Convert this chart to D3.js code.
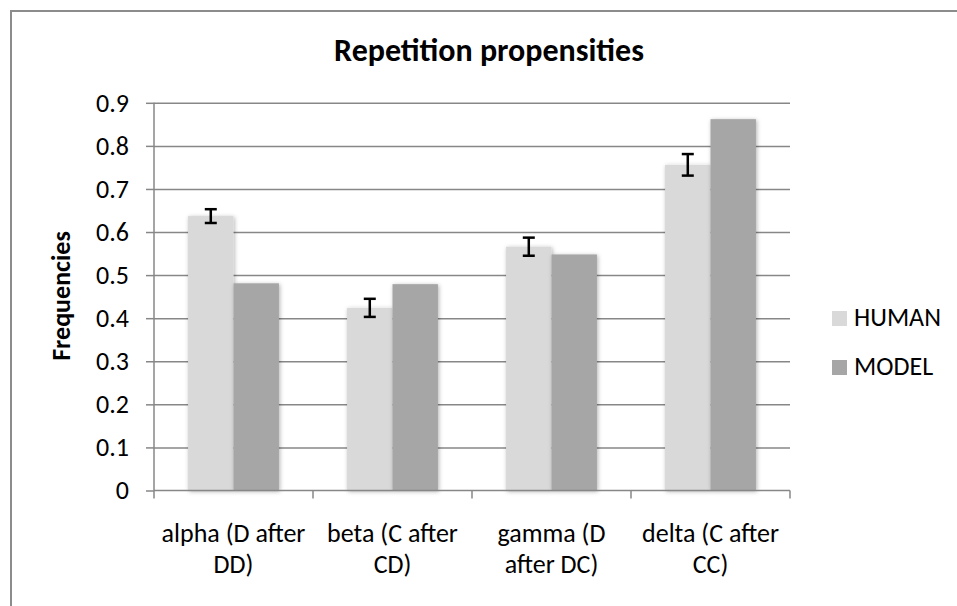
<!DOCTYPE html>
<html>
<head>
<meta charset="utf-8">
<script src="https://cdn.jsdelivr.net/npm/d3@7"></script>
<style>
  body { margin: 0; background: #fff; }
  text { font-family: Carlito, Calibri, Lato, sans-serif; fill: #000; }
</style>
</head>
<body>
<div id="chart"></div>
<script>
// data
var categories = ['alpha (D after DD)', 'beta (C after CD)', 'gamma (D after DC)', 'delta (C after CC)'];
var labelLines = [['alpha (D after', 'DD)'], ['beta (C after', 'CD)'], ['gamma (D', 'after DC)'], ['delta (C after', 'CC)']];
var seriesNames = ['HUMAN', 'MODEL'];
var humanValues = [0.637, 0.424, 0.566, 0.756];
var humanErrors = [0.016, 0.021, 0.021, 0.025];
var modelValues = [0.481, 0.479, 0.548, 0.862];
var yTicks = [0, 0.1, 0.2, 0.3, 0.4, 0.5, 0.6, 0.7, 0.8, 0.9];

var svgWidth = 957, svgHeight = 606;
var margin = { top: 102.8, left: 154, right: 167, bottom: 115.5 };
var chartWidth = svgWidth - margin.left - margin.right;
var chartHeight = svgHeight - margin.top - margin.bottom;
var colors = { HUMAN: '#d9d9d9', MODEL: '#a6a6a6' };
var gridColor = '#878787';
var labelSize = '26px';

var svg = d3.select('#chart').append('svg')
    .attr('width', svgWidth)
    .attr('height', svgHeight);

// soft shadow like excel bars
var defs = svg.append('defs');
defs.append('filter')
    .attr('id', 'shadow')
    .attr('x', '-30%').attr('y', '-10%')
    .attr('width', '160%').attr('height', '120%')
    .append('feDropShadow')
    .attr('dx', 1).attr('dy', 1)
    .attr('stdDeviation', 2.2)
    .attr('flood-color', '#000')
    .attr('flood-opacity', 0.3);

// outer frame
svg.append('path')
    .attr('d', `M11,${svgHeight} L11,11 L${svgWidth},11`)
    .attr('fill', 'none')
    .attr('stroke', '#8c8c8c')
    .attr('stroke-width', 2);

var chartGroup = svg.append('g')
    .attr('transform', `translate(${margin.left}, ${margin.top})`);

// scales
var x0 = d3.scaleBand().domain(categories).range([0, chartWidth]).padding(0);
var x1 = d3.scaleBand().domain(seriesNames).range([0, x0.bandwidth()])
    .paddingInner(0).paddingOuter(0.75);
var y = d3.scaleLinear().domain([0, 0.9]).range([chartHeight, 0]);

// gridlines
var grid = chartGroup.append('g')
    .call(d3.axisLeft(y).tickValues(yTicks.slice(1)).tickSize(-chartWidth).tickFormat(''));
grid.select('.domain').remove();
grid.selectAll('line').attr('stroke', gridColor).attr('stroke-width', 1.5);

// bars
var rows = categories.map(function (c, i) {
    return { cat: c, i: i, vals: [
        { key: 'HUMAN', value: humanValues[i] },
        { key: 'MODEL', value: modelValues[i] }
    ] };
});

var catGroups = chartGroup.selectAll('.cat')
    .data(rows)
    .enter()
    .append('g')
    .attr('class', 'cat')
    .attr('transform', d => `translate(${x0(d.cat)}, 0)`);

catGroups.selectAll('rect')
    .data(d => d.vals)
    .enter()
    .append('rect')
    .attr('x', d => x1(d.key))
    .attr('y', d => y(d.value))
    .attr('width', x1.bandwidth())
    .attr('height', d => chartHeight - y(d.value))
    .attr('fill', d => colors[d.key])
    .attr('filter', 'url(#shadow)');

// error bars on human bars
var capW = 6;
var errGroup = catGroups.append('g')
    .attr('stroke', '#000')
    .attr('stroke-width', 2.5);
errGroup.append('line')
    .attr('x1', d => x1('HUMAN') + x1.bandwidth() / 2)
    .attr('x2', d => x1('HUMAN') + x1.bandwidth() / 2)
    .attr('y1', d => y(humanValues[d.i] + humanErrors[d.i]))
    .attr('y2', d => y(humanValues[d.i] - humanErrors[d.i]));
errGroup.append('line')
    .attr('x1', d => x1('HUMAN') + x1.bandwidth() / 2 - capW)
    .attr('x2', d => x1('HUMAN') + x1.bandwidth() / 2 + capW)
    .attr('y1', d => y(humanValues[d.i] + humanErrors[d.i]))
    .attr('y2', d => y(humanValues[d.i] + humanErrors[d.i]));
errGroup.append('line')
    .attr('x1', d => x1('HUMAN') + x1.bandwidth() / 2 - capW)
    .attr('x2', d => x1('HUMAN') + x1.bandwidth() / 2 + capW)
    .attr('y1', d => y(humanValues[d.i] - humanErrors[d.i]))
    .attr('y2', d => y(humanValues[d.i] - humanErrors[d.i]));

// y axis
var leftAxis = chartGroup.append('g')
    .call(d3.axisLeft(y).tickValues(yTicks).tickSize(8).tickPadding(17)
        .tickFormat(d => d === 0 ? '0' : d.toFixed(1)));
leftAxis.select('.domain').attr('stroke', gridColor).attr('stroke-width', 1.5)
    .attr('d', `M0,0V${chartHeight}`);
leftAxis.selectAll('line').attr('stroke', gridColor).attr('stroke-width', 1.5);
leftAxis.selectAll('text').style('font-size', labelSize);

// x axis
var bottomAxis = chartGroup.append('g')
    .attr('transform', `translate(0, ${chartHeight})`)
    .call(d3.axisBottom(x0).tickSize(0).tickFormat(''));
bottomAxis.select('.domain').attr('stroke', gridColor).attr('stroke-width', 1.5)
    .attr('d', `M0,0H${chartWidth}`);
bottomAxis.selectAll('.tick').remove();

var boundaries = [0].concat(categories.map(c => x0(c) + x0.bandwidth()));
bottomAxis.selectAll('.bound')
    .data(boundaries)
    .enter()
    .append('line')
    .attr('x1', d => d).attr('x2', d => d)
    .attr('y1', 0).attr('y2', 8)
    .attr('stroke', gridColor)
    .attr('stroke-width', 1.5);

var catLabels = bottomAxis.selectAll('.catlabel')
    .data(rows)
    .enter()
    .append('text')
    .attr('class', 'catlabel')
    .attr('text-anchor', 'middle')
    .style('font-size', labelSize)
    .attr('transform', d => `translate(${x0(d.cat) + x0.bandwidth() / 2}, 0)`);
catLabels.selectAll('tspan')
    .data(d => labelLines[d.i])
    .enter()
    .append('tspan')
    .attr('x', 0)
    .attr('y', (d, j) => 51 + j * 31)
    .text(d => d);

// title
svg.append('text')
    .attr('x', 489)
    .attr('y', 61)
    .attr('text-anchor', 'middle')
    .style('font-size', '32px')
    .style('font-weight', 'bold')
    .text('Repetition propensities');

// y label
svg.append('text')
    .attr('transform', 'translate(70, 296) rotate(-90)')
    .attr('text-anchor', 'middle')
    .style('font-size', '26px')
    .style('font-weight', 'bold')
    .text('Frequencies');

// legend
var legend = svg.append('g')
    .attr('transform', 'translate(832, 311)');
var legendItems = legend.selectAll('g')
    .data(seriesNames)
    .enter()
    .append('g')
    .attr('transform', (d, i) => `translate(0, ${i * 49})`);
legendItems.append('rect')
    .attr('width', 15).attr('height', 15)
    .attr('fill', d => colors[d]);
legendItems.append('text')
    .attr('x', 22)
    .attr('y', 15)
    .style('font-size', labelSize)
    .text(d => d);
</script>
</body>
</html>
